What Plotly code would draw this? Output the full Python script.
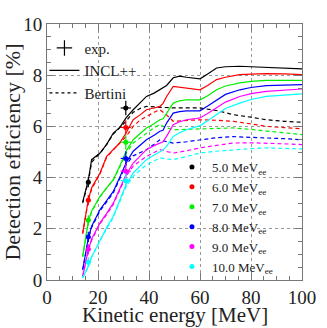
import plotly.graph_objects as go

# thresholds (MeVee) and colours
labels = ["5.0", "6.0", "7.0", "8.0", "9.0", "10.0"]
colors = ["#000000", "#ff0000", "#00ee00", "#0000ff", "#ff00ff", "#00ffff"]

# experimental points
exp_x = [16.2, 30.9]
exp_xerr = [0.9, 2.0]
exp_y = [
    [3.82, 6.72],
    [3.12, 5.96],
    [2.33, 5.38],
    [1.68, 4.75],
    [1.20, 4.25],
    [0.69, 3.88],
]
exp_yerr = [0.2, 0.28]

# INCL++ (solid)
incl_x = [14, 16.2, 17.5, 20.8, 23.4, 26, 28.5, 31, 33.8, 36.5, 39, 42, 44.3, 45.5, 46.9, 49.5,
          52, 54.7, 58, 60, 63, 66.5, 70, 75.6, 80, 86, 93, 100]
incl_y = [
    [3.05, 3.9, 4.7, 4.96, 5.3, 5.74, 5.95, 6.33, 6.65, 6.9, 7.17, 7.3, 7.43, 7.5, 7.6, 7.9,
     7.96, 7.92, 7.88, 7.86, 8.05, 8.28, 8.33, 8.35, 8.33, 8.31, 8.28, 8.25],
    [1.84, 3.14, 3.6, 4.18, 4.83, 5.1, 5.35, 5.74, 6.26, 6.45, 6.65, 6.72, 6.78, 6.9, 7.17, 7.56,
     7.53, 7.5, 7.45, 7.43, 7.6, 7.83, 7.92, 8.02, 8.04, 8.06, 8.05, 8.02],
    [0.92, 2.29, 2.7, 3.27, 3.6, 3.92, 4.45, 5.03, 5.48, 5.7, 5.94, 6.1, 6.26, 6.3, 6.52, 6.91,
     7.0, 7.04, 7.04, 7.04, 7.2, 7.43, 7.58, 7.7, 7.76, 7.8, 7.8, 7.8],
    [0.4, 1.64, 2.1, 2.75, 3.1, 3.46, 4.0, 4.57, 5.03, 5.25, 5.48, 5.65, 5.81, 5.85, 6.13, 6.52,
     6.58, 6.61, 6.61, 6.61, 6.8, 7.04, 7.25, 7.43, 7.52, 7.59, 7.62, 7.63],
    [0.14, 1.18, 1.6, 2.23, 2.6, 3.0, 3.55, 4.11, 4.57, 4.85, 5.09, 5.25, 5.35, 5.4, 5.61, 6.07,
     6.18, 6.26, 6.3, 6.33, 6.5, 6.72, 6.95, 7.17, 7.28, 7.37, 7.42, 7.46],
    [0.08, 0.55, 0.9, 1.58, 2.05, 2.49, 3.1, 3.72, 4.18, 4.45, 4.7, 4.88, 5.03, 5.08, 5.22, 5.61,
     5.75, 5.87, 5.97, 6.03, 6.22, 6.46, 6.7, 6.91, 7.05, 7.17, 7.23, 7.27],
]

# Bertini (dashed)
bert_x = [14, 16.2, 17.5, 20.8, 23.4, 26, 28.5, 31, 33.8, 36.5, 39, 42, 44.3, 46.9, 49.5,
          54.7, 60, 66.5, 73, 80, 86, 93, 100]
bert_y = [
    [3.0, 3.85, 4.6, 4.95, 5.3, 5.7, 5.95, 6.2, 6.55, 6.7, 6.78, 6.76, 6.74, 6.72, 6.72,
     6.72, 6.72, 6.62, 6.46, 6.36, 6.26, 6.2, 6.16],
    [1.8, 3.1, 3.55, 4.15, 4.8, 5.1, 5.35, 5.6, 6.0, 6.25, 6.39, 6.55, 6.65, 6.45, 6.2,
     6.22, 6.26, 6.24, 6.2, 6.1, 6.0, 5.95, 5.91],
    [0.9, 2.25, 2.65, 3.25, 3.6, 3.9, 4.4, 4.95, 5.35, 5.55, 5.74, 5.95, 6.07, 5.95, 5.87,
     5.88, 5.9, 5.93, 5.94, 5.88, 5.81, 5.75, 5.68],
    [0.4, 1.6, 2.05, 2.7, 3.05, 3.4, 3.95, 4.5, 4.85, 4.98, 5.09, 5.3, 5.48, 5.4, 5.35,
     5.4, 5.48, 5.56, 5.6, 5.58, 5.55, 5.52, 5.48],
    [0.14, 1.15, 1.55, 2.2, 2.55, 2.95, 3.5, 4.05, 4.45, 4.65, 4.83, 4.98, 5.09, 5.02, 4.96,
     5.05, 5.16, 5.26, 5.35, 5.36, 5.35, 5.32, 5.29],
    [0.08, 0.52, 0.88, 1.55, 2.0, 2.45, 3.05, 3.65, 4.05, 4.3, 4.5, 4.65, 4.77, 4.73, 4.7,
     4.82, 4.96, 5.03, 5.09, 5.13, 5.16, 5.14, 5.12],
]

font = "Liberation Serif, Times New Roman, serif"
fig = go.Figure()

for i in range(len(labels)):
    fig.add_trace(go.Scatter(x=incl_x, y=incl_y[i], mode="lines", showlegend=False,
                             line=dict(color=colors[i], width=1.2)))
    fig.add_trace(go.Scatter(x=bert_x, y=bert_y[i], mode="lines", showlegend=False,
                             line=dict(color=colors[i], width=1.2, dash="4px,3px")))

for i in range(len(labels)):
    fig.add_trace(go.Scatter(
        x=exp_x, y=exp_y[i], mode="markers", name=labels[i] + " MeV<sub>ee</sub>",
        marker=dict(color=colors[i], size=5),
        error_x=dict(type="data", array=exp_xerr, color=colors[i], thickness=1.2, width=0),
        error_y=dict(type="data", array=exp_yerr, color=colors[i], thickness=1.2, width=0),
        legend="legend",
    ))

# style legend
fig.add_trace(go.Scatter(x=[None], y=[None], mode="markers", name="exp.",
                         marker=dict(color="black", size=11, symbol="cross-thin",
                                     line=dict(color="black", width=1.2)),
                         legend="legend2"))
fig.add_trace(go.Scatter(x=[None], y=[None], mode="lines", name="INCL++",
                         line=dict(color="black", width=1.2), legend="legend2"))
fig.add_trace(go.Scatter(x=[None], y=[None], mode="lines", name="Bertini",
                         line=dict(color="black", width=1.2, dash="3px,3px"), legend="legend2"))

axis_common = dict(
    showline=True, linecolor="#777", linewidth=1, mirror="allticks",
    ticks="inside", ticklen=7, tickcolor="#777",
    showgrid=True, gridcolor="#999", griddash="dot", gridwidth=1,
    zeroline=False, automargin=False,
    tickfont=dict(family=font, size=19, color="#222"),
)

fig.update_layout(
    width=327, height=328,
    margin=dict(l=47, r=25, t=24, b=48),
    plot_bgcolor="white", paper_bgcolor="white",
    font=dict(family=font, color="#222"),
    xaxis=dict(axis_common, range=[0, 100], dtick=20,
               minor=dict(dtick=5, ticklen=4, ticks="inside", tickcolor="#777", showgrid=False)),
    yaxis=dict(axis_common, range=[0, 10], dtick=2,
               minor=dict(dtick=0.5, ticklen=4, ticks="inside", tickcolor="#777", showgrid=False),
               title=dict(text="Detection efficiency [%]", font=dict(family=font, size=22), standoff=4)),
    legend=dict(x=0.49, y=0.5, xanchor="left", yanchor="top", bgcolor="rgba(0,0,0,0)",
                font=dict(family=font, size=13, color="#222"), itemwidth=30, tracegroupgap=0,
                itemclick=False),
    legend2=dict(x=-0.01, y=0.97, xanchor="left", yanchor="top", bgcolor="rgba(0,0,0,0)",
                 font=dict(family=font, size=15, color="#222"), itemwidth=30),
    annotations=[dict(text="Kinetic energy [MeV]", xref="paper", yref="paper", x=0.5, y=-0.135,
                      xanchor="center", yanchor="middle", showarrow=False,
                      font=dict(family=font, size=21, color="#222"))],
)

fig.write_html("out.html", post_script="document.body.style.margin='0';",
               config={"displayModeBar": False})
